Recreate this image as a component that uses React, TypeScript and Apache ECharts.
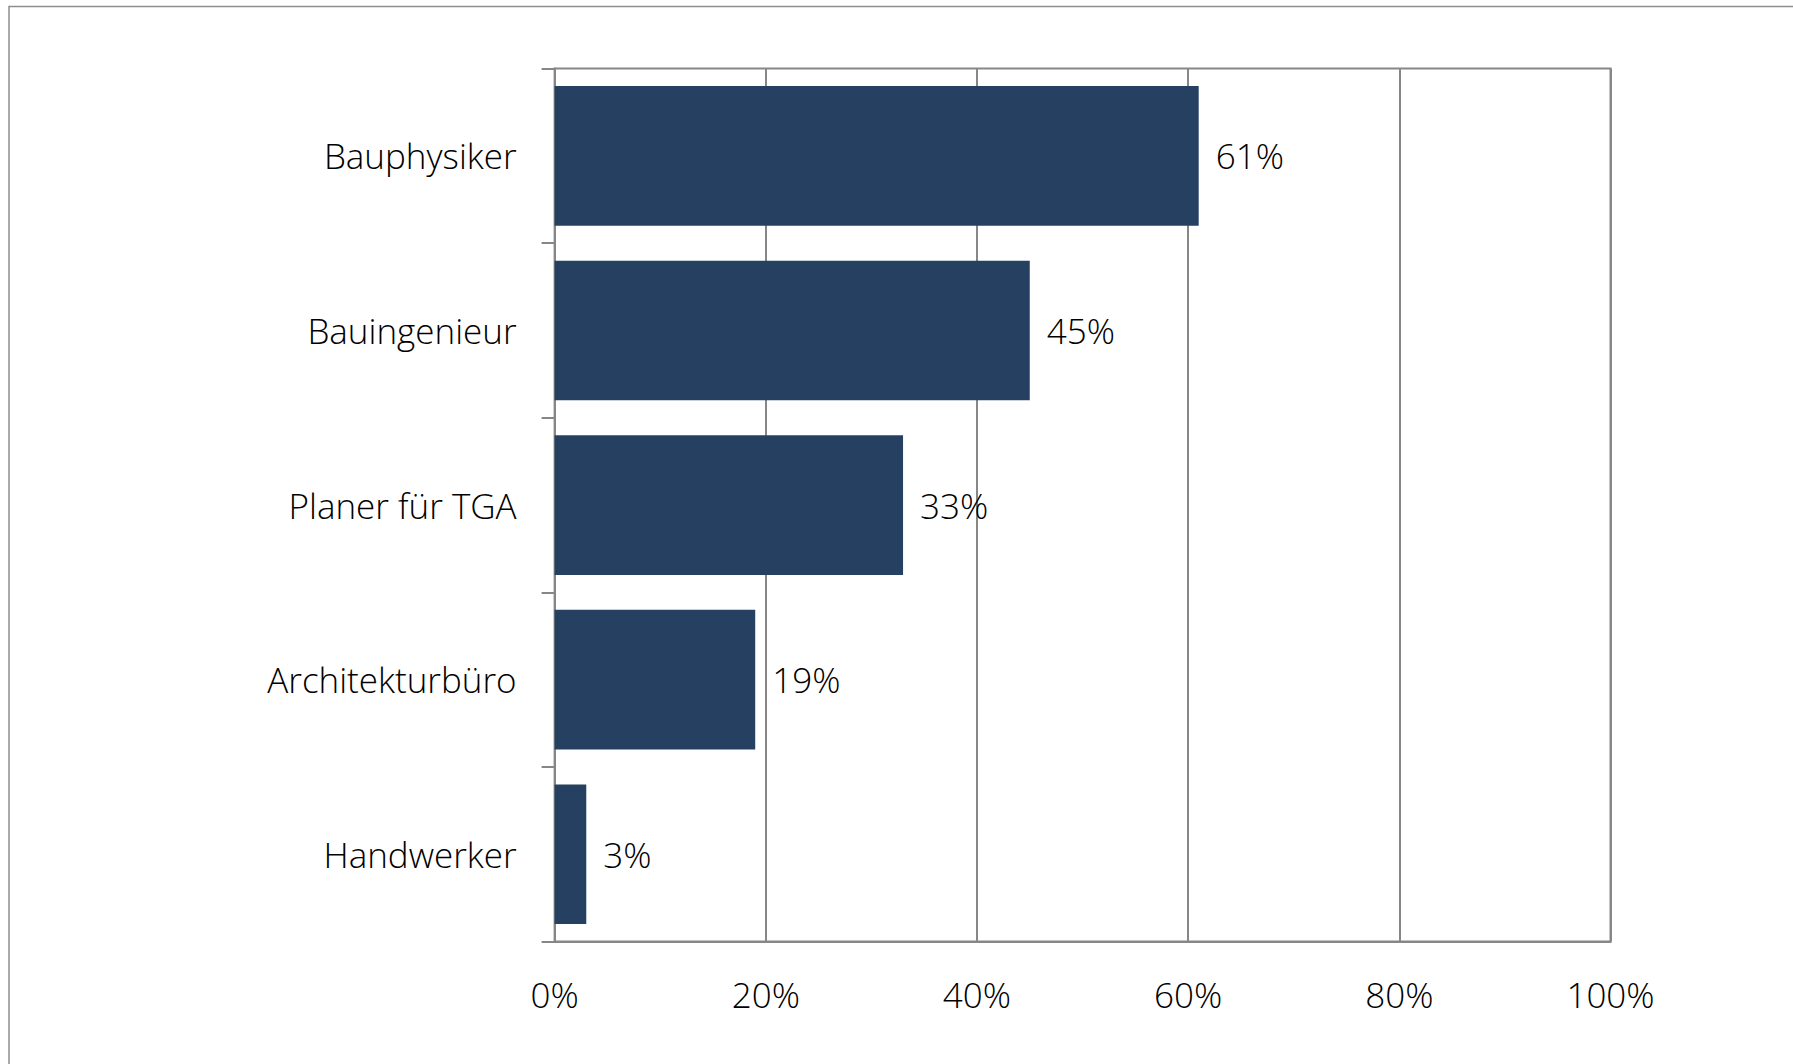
import React, { useEffect, useRef } from "react";
import * as echarts from "echarts";

const categories = ["Bauphysiker", "Bauingenieur", "Planer für TGA", "Architekturbüro", "Handwerker"];
const values = [61, 45, 33, 19, 3];
const xTicks = { min: 0, max: 100, interval: 20 };

const FONT = "'Open Sans', 'Noto Sans', sans-serif";
const GRAY = "#878787";
const FS = 35;

export default function App() {
  const ref = useRef<HTMLDivElement>(null);
  useEffect(() => {
    if (!ref.current) return;
    const chart = echarts.init(ref.current, null, { renderer: "svg" });
    chart.setOption({
      animation: false,
      backgroundColor: "#ffffff",
      graphic: [
        {
          type: "rect",
          shape: { x: 9, y: 6.5, width: 1850, height: 1150 },
          style: { fill: "none", stroke: "#8e8e8e", lineWidth: 1.5 },
          silent: true,
        },
      ],
      grid: {
        left: 554.6,
        top: 68.6,
        right: 182.5,
        bottom: 122.5,
        show: true,
        borderColor: GRAY,
        borderWidth: 2,
        containLabel: false,
      },
      xAxis: {
        type: "value",
        min: xTicks.min,
        max: xTicks.max,
        interval: xTicks.interval,
        axisLine: { show: true, lineStyle: { color: GRAY, width: 2 } },
        axisTick: { show: false },
        splitLine: { show: true, lineStyle: { color: GRAY, width: 2 } },
        axisLabel: {
          formatter: "{value}%",
          fontFamily: FONT,
          fontWeight: 300,
          fontSize: FS,
          color: "#000",
          margin: 35,
        },
      },
      yAxis: {
        type: "category",
        data: categories,
        inverse: true,
        axisLine: { show: true, lineStyle: { color: GRAY, width: 2 } },
        axisTick: { show: true, length: 13, lineStyle: { color: GRAY, width: 2 } },
        splitLine: { show: false },
        axisLabel: {
          fontFamily: FONT,
          fontWeight: 300,
          fontSize: FS,
          color: "#000",
          margin: 38,
        },
      },
      series: [
        {
          type: "bar",
          data: values,
          barCategoryGap: "20%",
          itemStyle: { color: "#264061" },
          label: {
            show: true,
            position: "right",
            distance: 17,
            formatter: "{c}%",
            fontFamily: FONT,
            fontWeight: 300,
            fontSize: FS,
            color: "#000",
          },
        },
      ],
    });
    return () => chart.dispose();
  }, []);
  return (
    <div
      ref={ref}
      style={{ position: "fixed", left: 0, top: 0, width: 1793, height: 1064, background: "#fff" }}
    />
  );
}
